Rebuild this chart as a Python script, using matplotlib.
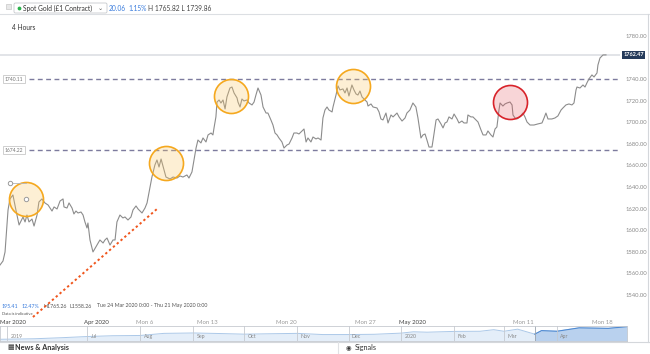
import matplotlib.pyplot as plt
from matplotlib.patches import FancyBboxPatch, Rectangle

plt.rcParams['font.family'] = ['Lato', 'DejaVu Sans']

W, H = 650, 354

# spot gold, 4h bars; time in trading days since Tue 24 Mar 2020 0:00
t_days = [
    -0.19, 0.00, 0.13, 0.32, 0.44, 0.63, 0.82, 1.02, 1.27, 1.40, 1.52, 1.65, 1.84, 1.97,
    2.16, 2.28, 2.47, 2.66, 2.86, 3.11, 3.24, 3.43, 3.62, 3.81, 3.87, 4.06, 4.19, 4.38,
    4.50, 4.63, 4.76, 4.95, 5.08, 5.20, 5.33, 5.39, 5.52, 5.65, 5.71, 5.96, 6.15, 6.35,
    6.47, 6.60, 6.79, 6.98, 7.11, 7.23, 7.42, 7.61, 7.74, 7.93, 8.12, 8.25, 8.44, 8.57,
    8.82, 9.01, 9.14, 9.26, 9.45, 9.64, 9.77, 9.90, 10.03, 10.22, 10.34, 10.60, 10.79,
    11.04, 11.23, 11.42, 11.67, 11.80, 11.99, 12.12, 12.25, 12.37, 12.56, 12.69, 12.88,
    13.01, 13.20, 13.32, 13.39, 13.51, 13.58, 13.71, 13.83, 13.96, 14.09, 14.21, 14.40,
    14.53, 14.66, 14.85, 14.91, 15.04, 15.16, 15.29, 15.48, 15.61, 15.80, 15.93, 16.05,
    16.18, 16.37, 16.50, 16.69, 16.81, 17.00, 17.13, 17.26, 17.39, 17.51, 17.70, 17.83,
    18.02, 18.15, 18.34, 18.46, 18.65, 18.78, 18.97, 19.10, 19.23, 19.35, 19.54, 19.67,
    19.86, 19.99, 20.18, 20.30, 20.43, 20.56, 20.68, 20.88, 20.94, 21.13, 21.26, 21.38,
    21.57, 21.70, 21.83, 21.95, 22.14, 22.27, 22.40, 22.52, 22.65, 22.78, 22.91, 23.10,
    23.16, 23.35, 23.48, 23.73, 23.86, 23.98, 24.11, 24.30, 24.43, 24.62, 24.75, 25.00,
    25.13, 25.32, 25.51, 25.63, 25.82, 26.01, 26.20, 26.33, 26.52, 26.65, 26.78, 26.90,
    27.03, 27.22, 27.29, 27.48, 27.60, 27.79, 27.92, 28.05, 28.17, 28.30, 28.49, 28.62,
    28.81, 28.93, 29.12, 29.25, 29.44, 29.50, 29.69, 29.82, 30.01, 30.14, 30.33, 30.46,
    30.65, 30.77, 30.96, 31.09, 31.22, 31.34, 31.47, 31.54, 31.72, 31.85, 31.98, 32.17,
    32.30, 32.36, 32.49, 32.61, 32.80, 32.99, 33.12, 33.25, 33.44, 33.69, 33.94, 34.20,
    34.33, 34.45, 34.58, 34.83, 35.02, 35.21, 35.41, 35.53, 35.72, 35.91, 36.10, 36.23,
    36.36, 36.42, 36.61, 36.80, 36.93, 37.05, 37.18, 37.37, 37.50, 37.69, 37.75, 37.88,
    38.07, 38.26,
]
price = [
    1567.8, 1571.5, 1579.9, 1618.8, 1629.0, 1632.7, 1618.8, 1604.9, 1612.3, 1607.7, 1614.1,
    1607.7, 1610.4, 1603.9, 1614.1, 1626.2, 1629.0, 1625.3, 1623.4, 1617.8, 1621.6, 1619.7,
    1627.1, 1629.0, 1621.6, 1620.6, 1625.3, 1620.6, 1615.1, 1617.8, 1616.0, 1616.9, 1614.1,
    1607.7, 1602.1, 1606.7, 1591.0, 1583.6, 1579.9, 1586.3, 1591.0, 1588.2, 1591.0, 1592.8,
    1586.3, 1591.0, 1591.0, 1607.7, 1614.1, 1611.4, 1612.3, 1609.5, 1612.3, 1618.8, 1622.5,
    1619.7, 1616.0, 1620.6, 1625.3, 1634.5, 1649.3, 1660.5, 1665.1, 1658.6, 1666.0, 1655.8,
    1649.3, 1647.5, 1649.3, 1648.4, 1650.3, 1649.3, 1651.2, 1648.4, 1654.0, 1665.1, 1676.2,
    1683.6, 1680.9, 1685.5, 1681.8, 1688.3, 1690.1, 1688.3, 1694.8, 1705.0, 1718.8, 1720.7,
    1717.9, 1720.7, 1712.4, 1723.5, 1731.8, 1732.7, 1727.2, 1722.6, 1718.8, 1714.2, 1721.6,
    1719.8, 1720.7, 1717.9, 1716.1, 1718.8, 1725.3, 1731.8, 1725.3, 1714.2, 1708.6, 1708.6,
    1702.2, 1697.5, 1690.1, 1688.3, 1685.5, 1681.8, 1676.2, 1679.0, 1679.9, 1685.5, 1690.1,
    1690.1, 1689.2, 1692.0, 1693.8, 1681.8, 1685.5, 1681.8, 1686.4, 1684.6, 1685.5, 1683.6,
    1704.0, 1711.4, 1714.2, 1711.4, 1709.6, 1714.2, 1725.3, 1733.7, 1730.0, 1730.9, 1727.2,
    1731.8, 1724.4, 1734.6, 1730.0, 1726.3, 1725.3, 1729.0, 1723.5, 1721.6, 1718.8, 1715.1,
    1717.0, 1714.2, 1713.3, 1709.6, 1703.1, 1702.2, 1708.6, 1699.4, 1706.8, 1705.0, 1708.6,
    1705.0, 1701.2, 1704.0, 1708.6, 1711.4, 1717.9, 1714.2, 1704.0, 1685.5, 1688.3, 1689.2,
    1683.6, 1677.1, 1677.1, 1683.6, 1702.2, 1703.1, 1698.5, 1694.8, 1699.4, 1700.3, 1705.0,
    1703.1, 1707.7, 1703.1, 1699.4, 1701.2, 1699.4, 1699.4, 1706.8, 1705.0, 1705.0, 1702.2,
    1700.3, 1692.9, 1688.3, 1688.3, 1692.0, 1688.3, 1686.4, 1693.8, 1695.7, 1711.4, 1717.9,
    1715.1, 1717.0, 1717.9, 1718.8, 1716.1, 1706.8, 1704.0, 1703.1, 1705.0, 1708.6, 1705.0,
    1700.3, 1697.5, 1697.5, 1698.5, 1699.4, 1704.0, 1708.6, 1703.1, 1703.1, 1704.0, 1705.9,
    1711.4, 1713.3, 1716.1, 1717.0, 1716.1, 1717.9, 1730.0, 1732.7, 1731.8, 1734.6, 1732.7,
    1736.5, 1740.2, 1743.9, 1742.0, 1745.7, 1753.1, 1759.6, 1762.4, 1762.47,
]

levels = [1740.11, 1674.22]
last_price = 1762.47

y_ticks = [1540, 1560, 1580, 1600, 1620, 1640, 1660, 1680, 1700, 1720, 1740, 1760, 1780]
x_tick_pos = [0.6, 5.9, 9, 13, 18, 23, 26, 33, 38]
x_tick_lab = ['Mar 2020', 'Apr 2020', 'Mon 6', 'Mon 13', 'Mon 20', 'Mon 27',
              'May 2020', 'Mon 11', 'Mon 18']

# drawn annotations
ring_t = [1.46, 10.34, 14.47, 22.21]
ring_p = [1629.0, 1662.3, 1724.4, 1733.7]
red_t = [32.17]
red_p = [1718.8]
trend_t = [1.90, 9.77]
trend_p = [1519.6, 1619.7]
handle_t = [0.44, 1.46]
handle_p = [1643.8, 1629.0]

# navigator: days since 1 Jul 2019
nav_day = [-51, -31, -15, 0, 15, 31, 45, 62, 77, 92, 107, 123, 138, 153, 168, 184, 191,
           199, 215, 230, 238, 244, 252, 262, 266, 275, 288, 305, 316]
nav_price = [1285, 1305, 1345, 1390, 1420, 1430, 1510, 1525, 1505, 1480, 1495, 1510, 1465,
             1465, 1475, 1520, 1570, 1555, 1585, 1590, 1650, 1590, 1670, 1480, 1615, 1590,
             1720, 1700, 1765]
nav_sel_start = 262
nav_months = [-47, 0, 31, 62, 92, 123, 153, 184, 215, 244, 275]
nav_labels = ['2019', 'Jul', 'Aug', 'Sep', 'Oct', 'Nov', 'Dec', '2020', 'Feb', 'Mar', 'Apr']


def fx(px):
    return px / W


def fy(py):
    return 1 - py / H


fig = plt.figure(figsize=(W / 100, H / 100), dpi=100)

# background layer in pixel coordinates for the platform chrome
bg = fig.add_axes([0, 0, 1, 1], zorder=-1)
bg.set_xlim(0, W)
bg.set_ylim(H, 0)
bg.axis('off')
bg.plot([0, W], [14, 14], color='#dcdfe3', lw=0.8)
bg.plot([648, 648], [14, 342], color='#d4d7db', lw=0.8)
bg.plot([0, W], [342, 342], color='#d4d7db', lw=0.8)
bg.plot([338, 338], [342, H], color='#e0e2e5', lw=0.8)
bg.add_patch(Rectangle((6, 4), 5, 5, fc='#e8e8e8', ec='#c8c8c8', lw=0.5))
bg.add_patch(FancyBboxPatch((14, 3), 93, 10, boxstyle='round,pad=0,rounding_size=1.5',
                            fc='white', ec='#c6c9cd', lw=0.6))
bg.scatter([19], [8], s=3, color='#2bb24c')
bg.text(23, 8.3, 'Spot Gold (£1 Contract)', fontsize=4.8, color='#333333', va='center')
bg.text(100.5, 8.0, '⌄', fontsize=4.5, color='#555555', va='center', ha='center',
        family=['DejaVu Sans'])
bg.text(109, 8.3, '20.06', fontsize=4.8, color='#3b7ddd', va='center')
bg.text(128, 8.3, '1.15%', fontsize=4.8, color='#3b7ddd', va='center')
bg.text(148, 8.3, 'H 1765.82 L 1739.86', fontsize=4.8, color='#444444', va='center')
bg.text(12, 27.5, '4 Hours', fontsize=4.8, color='#333333', va='center')

bg.text(2, 306, '195.41', fontsize=3.8, color='#3b7ddd', va='center')
bg.text(22, 306, '12.47%', fontsize=3.8, color='#3b7ddd', va='center')
bg.text(44, 306, 'H1765.26', fontsize=3.8, color='#555555', va='center')
bg.text(70, 306, 'L1558.26', fontsize=3.8, color='#555555', va='center')
bg.text(97, 306, 'Tue 24 Mar 2020 0:00 - Thu 21 May 2020 0:00', fontsize=3.8,
        color='#555555', va='center')
bg.text(2, 314, 'Data is indicative', fontsize=3.0, color='#555555', va='center')

bg.text(7, 347.5, '▦', fontsize=5, color='#333333', va='center', family=['DejaVu Sans'])
bg.text(15, 347.5, 'News & Analysis', fontsize=5.2, color='#333333', va='center',
        weight='bold')
bg.text(346, 347.5, '◉', fontsize=4.6, color='#333333', va='center', family=['DejaVu Sans'])
bg.text(355, 347.5, 'Signals', fontsize=5.2, color='#333333', va='center')

# main price chart
ax = fig.add_axes([0, fy(318), fx(620), (318 - 16) / H])
ax.set_facecolor('none')
ax.set_xlim(-0.19, 39.15)
ax.set_ylim(1518.7, 1798.5)
for s in ax.spines.values():
    s.set_visible(False)

ax.axhline(last_price, color='#dfe2e6', lw=1.3, zorder=1)
for lv in levels:
    ax.axhline(lv, xmin=29 / 620, color='#7d7b9e', lw=1.0, dashes=(3.5, 2.5), zorder=2)
    ax.text(14 / 620, lv, f'{lv:.2f}', transform=ax.get_yaxis_transform(), ha='center',
            va='center', fontsize=3.6, color='#777777',
            bbox=dict(boxstyle='square,pad=0.35', fc='white', ec='#c8c8c8', lw=0.6))

ax.plot(t_days, price, color='#8c8c8c', lw=0.8, zorder=3)

ax.scatter(ring_t, ring_p, s=600, facecolor=(0.98, 0.78, 0.40, 0.28),
           edgecolor='#f5a81e', lw=1.2, zorder=4)
ax.scatter(red_t, red_p, s=600, facecolor=(0.90, 0.35, 0.38, 0.25),
           edgecolor='#d8232a', lw=1.2, zorder=4)
ax.plot(trend_t, trend_p, color='#f0561d', lw=1.4, dashes=(1.2, 1.4), zorder=4,
        clip_on=False)
ax.plot([handle_t[0], handle_t[1]], [handle_p[0], handle_p[0]], color='#b5b5b5', lw=0.6,
        zorder=5)
ax.scatter(handle_t, handle_p, s=10, facecolor='white', edgecolor='#9a9a9a', lw=0.7,
           zorder=6)

ax.text(1 + 13.5 / 620, last_price, f'{last_price:.2f}', transform=ax.get_yaxis_transform(),
        ha='center', va='center', fontsize=4.0, color='white', weight='bold', clip_on=False,
        zorder=10, bbox=dict(boxstyle='square,pad=0.3', fc='#253b5b', ec='none'))

ax.yaxis.tick_right()
ax.set_yticks(y_ticks, [f'{v:.2f}' if v != 1760 else '' for v in y_ticks])
ax.tick_params(axis='y', length=0, pad=4, labelsize=4.2, labelcolor='#8a8a8a')
ax.set_xticks(x_tick_pos, x_tick_lab)
ax.tick_params(axis='x', length=0, pad=1.5, labelsize=4.3, labelcolor='#9a9a9a')
for lab in ax.get_xticklabels():
    if '20' in lab.get_text() and not lab.get_text().startswith('Mon'):
        lab.set_color('#444444')

# navigator strip
nav = fig.add_axes([0, fy(341), fx(627), 15 / H])
nav.set_xlim(-51, 316)
nav.set_ylim(1220, 1790)
nav.fill_between(nav_day, nav_price, 1220, color='#e4eef9', lw=0)
nav.plot(nav_day, nav_price, color='#abc8e8', lw=0.7)
sel_d = [d for d in nav_day if d >= nav_sel_start]
sel_p = nav_price[len(nav_day) - len(sel_d):]
nav.fill_between(sel_d, sel_p, 1220, color='#b9d1ee', lw=0)
nav.plot(sel_d, sel_p, color='#4f8ad2', lw=0.8)
nav.axvline(nav_sel_start, color='#9aa3ad', lw=0.6)
for d, lab in zip(nav_months, nav_labels):
    nav.axvline(d, color='#c6cad0', lw=0.6)
    nav.text(d + 2, 0.3, lab, transform=nav.get_xaxis_transform(), fontsize=3.8,
             color='#888888', va='center')
nav.set_xticks([])
nav.set_yticks([])
for s in nav.spines.values():
    s.set_color('#c6cad0')
    s.set_linewidth(0.6)

fig.savefig('out.png', dpi=100)
